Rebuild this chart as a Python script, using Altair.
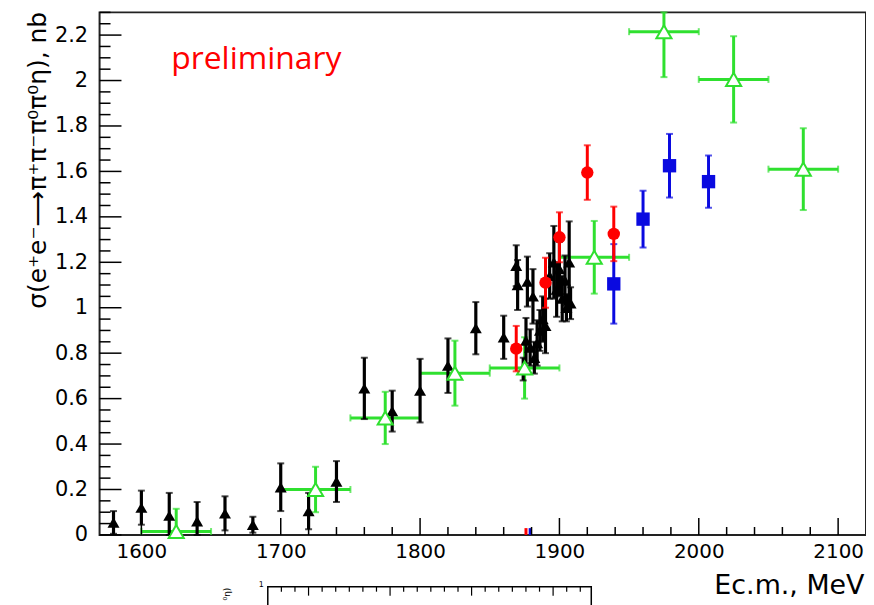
import altair as alt
import pandas as pd

# ---------------- data ----------------
X_MIN, X_MAX = 1570, 2120
Y_MIN, Y_MAX = 0.0, 2.3

black_x = [1580, 1600, 1620, 1640, 1660, 1680, 1700, 1720, 1740, 1760, 1780, 1800,
           1820, 1840, 1860, 1869, 1870, 1874, 1876, 1877, 1879, 1881, 1882, 1884,
           1886, 1888, 1890, 1893, 1896, 1898, 1900, 1902, 1904, 1905, 1907, 1908]
black_y = [0.055, 0.12, 0.085, 0.06, 0.095, 0.045, 0.21, 0.105, 0.235, 0.645, 0.545, 0.635,
           0.745, 0.91, 0.87, 1.185, 1.10, 0.73, 0.855, 1.115, 0.825, 1.05, 0.78, 0.845,
           0.90, 0.95, 0.92, 1.14, 1.20, 1.08, 1.17, 1.04, 1.12, 1.00, 1.20, 1.02]
black_err = [0.05, 0.075, 0.10, 0.085, 0.075, 0.035, 0.105, 0.08, 0.09, 0.135, 0.09, 0.14,
             0.12, 0.115, 0.095, 0.09, 0.11, 0.05, 0.10, 0.11, 0.08, 0.12, 0.07, 0.10,
             0.09, 0.10, 0.12, 0.10, 0.16, 0.12, 0.12, 0.10, 0.11, 0.06, 0.18, 0.07]

red_x = [1869, 1890, 1900, 1920, 1939]
red_y = [0.82, 1.11, 1.31, 1.595, 1.325]
red_err = [0.10, 0.11, 0.11, 0.12, 0.12]

blue_x = [1939, 1960, 1979, 2007]
blue_y = [1.105, 1.39, 1.625, 1.555]
blue_err = [0.175, 0.125, 0.14, 0.115]

green_x = [1625, 1725, 1775, 1825, 1875, 1925, 1975, 2025, 2075]
green_y = [0.015, 0.20, 0.515, 0.712, 0.735, 1.222, 2.215, 2.005, 1.61]
green_err = [0.10, 0.10, 0.115, 0.143, 0.135, 0.16, 0.20, 0.19, 0.18]
green_halfwidth = [25, 25, 25, 25, 25, 25, 25, 25, 25]

stub_x = [1876, 1879]
stub_hi = [0.03, 0.03]
stub_series = ["red", "blue"]

x_major = [1600, 1700, 1800, 1900, 2000, 2100]
x_minor = [v for v in range(1580, 2120, 20) if v not in x_major]
y_major = [round(0.2 * i, 2) for i in range(12)]
y_minor = [round(0.05 * i, 2) for i in range(47) if i % 4 != 0]

# ---------------- styling ----------------
W, H = 770, 525
FONT = "DejaVu Sans"
C_BLACK, C_RED, C_BLUE, C_GREEN = "#000000", "#ff0000", "#0a0ae0", "#2fe02f"

xs = alt.Scale(domain=[X_MIN, X_MAX], nice=False, zero=False)
ys = alt.Scale(domain=[Y_MIN, Y_MAX], nice=False, zero=False)

xaxis = alt.Axis(values=x_major, format="d", labelFontSize=20, labelFont=FONT, labelColor="black",
                 tickSize=0, domain=False, grid=False, labelPadding=7,
                 title="Ec.m., MeV", titleFont=FONT, titleFontSize=27, titleFontWeight="normal",
                 titleColor="black", titleAnchor="end", titleAlign="right",
                 titleBaseline="alphabetic", titleX=768, titleY=59)
yaxis = alt.Axis(values=y_major, format="~g", labelFontSize=21, labelFont=FONT, labelColor="black",
                 tickSize=0, domain=False, grid=False, labelPadding=12,
                 title="σ(e⁺e⁻⟶π⁺π⁻π⁰π⁰η), nb", titleFont=FONT, titleFontSize=25,
                 titleFontWeight="normal", titleColor="black", titleAngle=270,
                 titleAlign="right", titleBaseline="alphabetic", titleX=-54, titleY=-1)


def X(f):
    return alt.X(f, type="quantitative", scale=xs, axis=xaxis)


def Y(f):
    return alt.Y(f, type="quantitative", scale=ys, axis=yaxis)


def frame(xv, yv, ev):
    df = pd.DataFrame({"x": xv, "y": yv, "err": ev})
    df["lo"] = (df["y"] - df["err"]).clip(lower=Y_MIN)
    df["hi"] = (df["y"] + df["err"]).clip(upper=Y_MAX)
    return df


def vbars(df, color, width=3):
    rule = alt.Chart(df).mark_rule(color=color, strokeWidth=width).encode(
        x=X("x"), y=Y("lo"), y2="hi")
    caps = alt.Chart(df).transform_fold(["lo", "hi"], as_=["k", "v"]).mark_tick(
        color=color, orient="horizontal", size=7, thickness=2).encode(x=X("x"), y=Y("v"))
    return [rule, caps]


black = frame(black_x, black_y, black_err)
red = frame(red_x, red_y, red_err)
blue = frame(blue_x, blue_y, blue_err)
green = frame(green_x, green_y, green_err)
green["xl"] = green["x"] - pd.Series(green_halfwidth)
green["xr"] = green["x"] + pd.Series(green_halfwidth)

layers = []

# green: horizontal + vertical bars
layers.append(alt.Chart(green).mark_rule(color=C_GREEN, strokeWidth=3).encode(
    x=X("xl"), x2="xr", y=Y("y")))
layers.append(alt.Chart(green).transform_fold(["xl", "xr"], as_=["k", "v"]).mark_tick(
    color=C_GREEN, orient="vertical", size=7, thickness=2).encode(x=X("v"), y=Y("y")))
layers += vbars(green, C_GREEN)

# black
layers += vbars(black, C_BLACK, width=3.2)
layers.append(alt.Chart(black).mark_point(shape="triangle-up", filled=True, color=C_BLACK,
                                          size=145, opacity=1).encode(x=X("x"), y=Y("y")))
# green open triangles
layers.append(alt.Chart(green).mark_point(shape="triangle-up", filled=True, fill="white",
                                          stroke=C_GREEN, strokeWidth=2, size=230,
                                          opacity=1).encode(x=X("x"), y=Y("y")))
# blue
layers += vbars(blue, C_BLUE)
layers.append(alt.Chart(blue).mark_point(shape="square", filled=True, color=C_BLUE,
                                         size=180, opacity=1).encode(x=X("x"), y=Y("y")))
# red
layers += vbars(red, C_RED)
layers.append(alt.Chart(red).mark_point(shape="circle", filled=True, color=C_RED,
                                        size=155, opacity=1).encode(x=X("x"), y=Y("y")))

# tiny stubs at the bottom
stub = pd.DataFrame({"x": stub_x, "hi": stub_hi, "s": stub_series, "lo": [0.0, 0.0]})
layers.append(alt.Chart(stub).mark_rule(strokeWidth=3).encode(
    x=X("x"), y=Y("lo"), y2="hi",
    color=alt.Color("s:N", scale=alt.Scale(domain=["red", "blue"], range=[C_RED, C_BLUE]),
                    legend=None)))

# inward ticks
layers.append(alt.Chart(pd.DataFrame({"v": x_major})).mark_rule(color="black", strokeWidth=1.5).encode(
    x=X("v"), y=alt.value(H), y2=alt.value(H - 17)))
layers.append(alt.Chart(pd.DataFrame({"v": x_minor})).mark_rule(color="black", strokeWidth=1.5).encode(
    x=X("v"), y=alt.value(H), y2=alt.value(H - 8)))
layers.append(alt.Chart(pd.DataFrame({"v": y_major})).mark_rule(color="black", strokeWidth=1.5).encode(
    y=Y("v"), x=alt.value(0), x2=alt.value(22)))
layers.append(alt.Chart(pd.DataFrame({"v": y_minor})).mark_rule(color="black", strokeWidth=1.5).encode(
    y=Y("v"), x=alt.value(0), x2=alt.value(11)))

# "preliminary" label
layers.append(alt.Chart(pd.DataFrame({"t": ["preliminary"]})).mark_text(
    font="Open Sans", fontSize=32, color="#ff0000", align="left", baseline="alphabetic").encode(
    text="t:N", x=alt.value(72), y=alt.value(57)))

# fragment of the next figure peeking in at the bottom
deco = pd.DataFrame({"a": [0]})
layers.append(alt.Chart(deco).mark_rect(
    fill="white", fillOpacity=0, stroke="black", strokeWidth=1.5).encode(
    x=alt.value(169), x2=alt.value(494), y=alt.value(577), y2=alt.value(640)))
for i in range(1, 24):
    px = 169 + 13.65 * i
    ln = 9 if i % 6 == 3 else 5
    layers.append(alt.Chart(deco).mark_rule(color="black", strokeWidth=1.2).encode(
        x=alt.value(px), x2=alt.value(px), y=alt.value(577), y2=alt.value(577 + ln)))
layers.append(alt.Chart(pd.DataFrame({"t": ["1"]})).mark_text(
    font=FONT, fontSize=8, color="black", align="right", baseline="middle").encode(
    text="t:N", x=alt.value(165), y=alt.value(575)))
layers.append(alt.Chart(pd.DataFrame({"t": ["⁰η)"]})).mark_text(
    font=FONT, fontSize=9, color="black", align="right", baseline="alphabetic", angle=270).encode(
    text="t:N", x=alt.value(131), y=alt.value(578)))

chart = alt.layer(*layers).properties(
    width=W, height=H,
    autosize=alt.AutoSizeParams(type="none"),
    padding={"left": 92, "top": 3, "right": 0, "bottom": 69},
    background="white",
).configure_view(stroke="#222222", strokeWidth=2)

chart.save("out.html", embed_options={"renderer": "svg", "actions": False})
